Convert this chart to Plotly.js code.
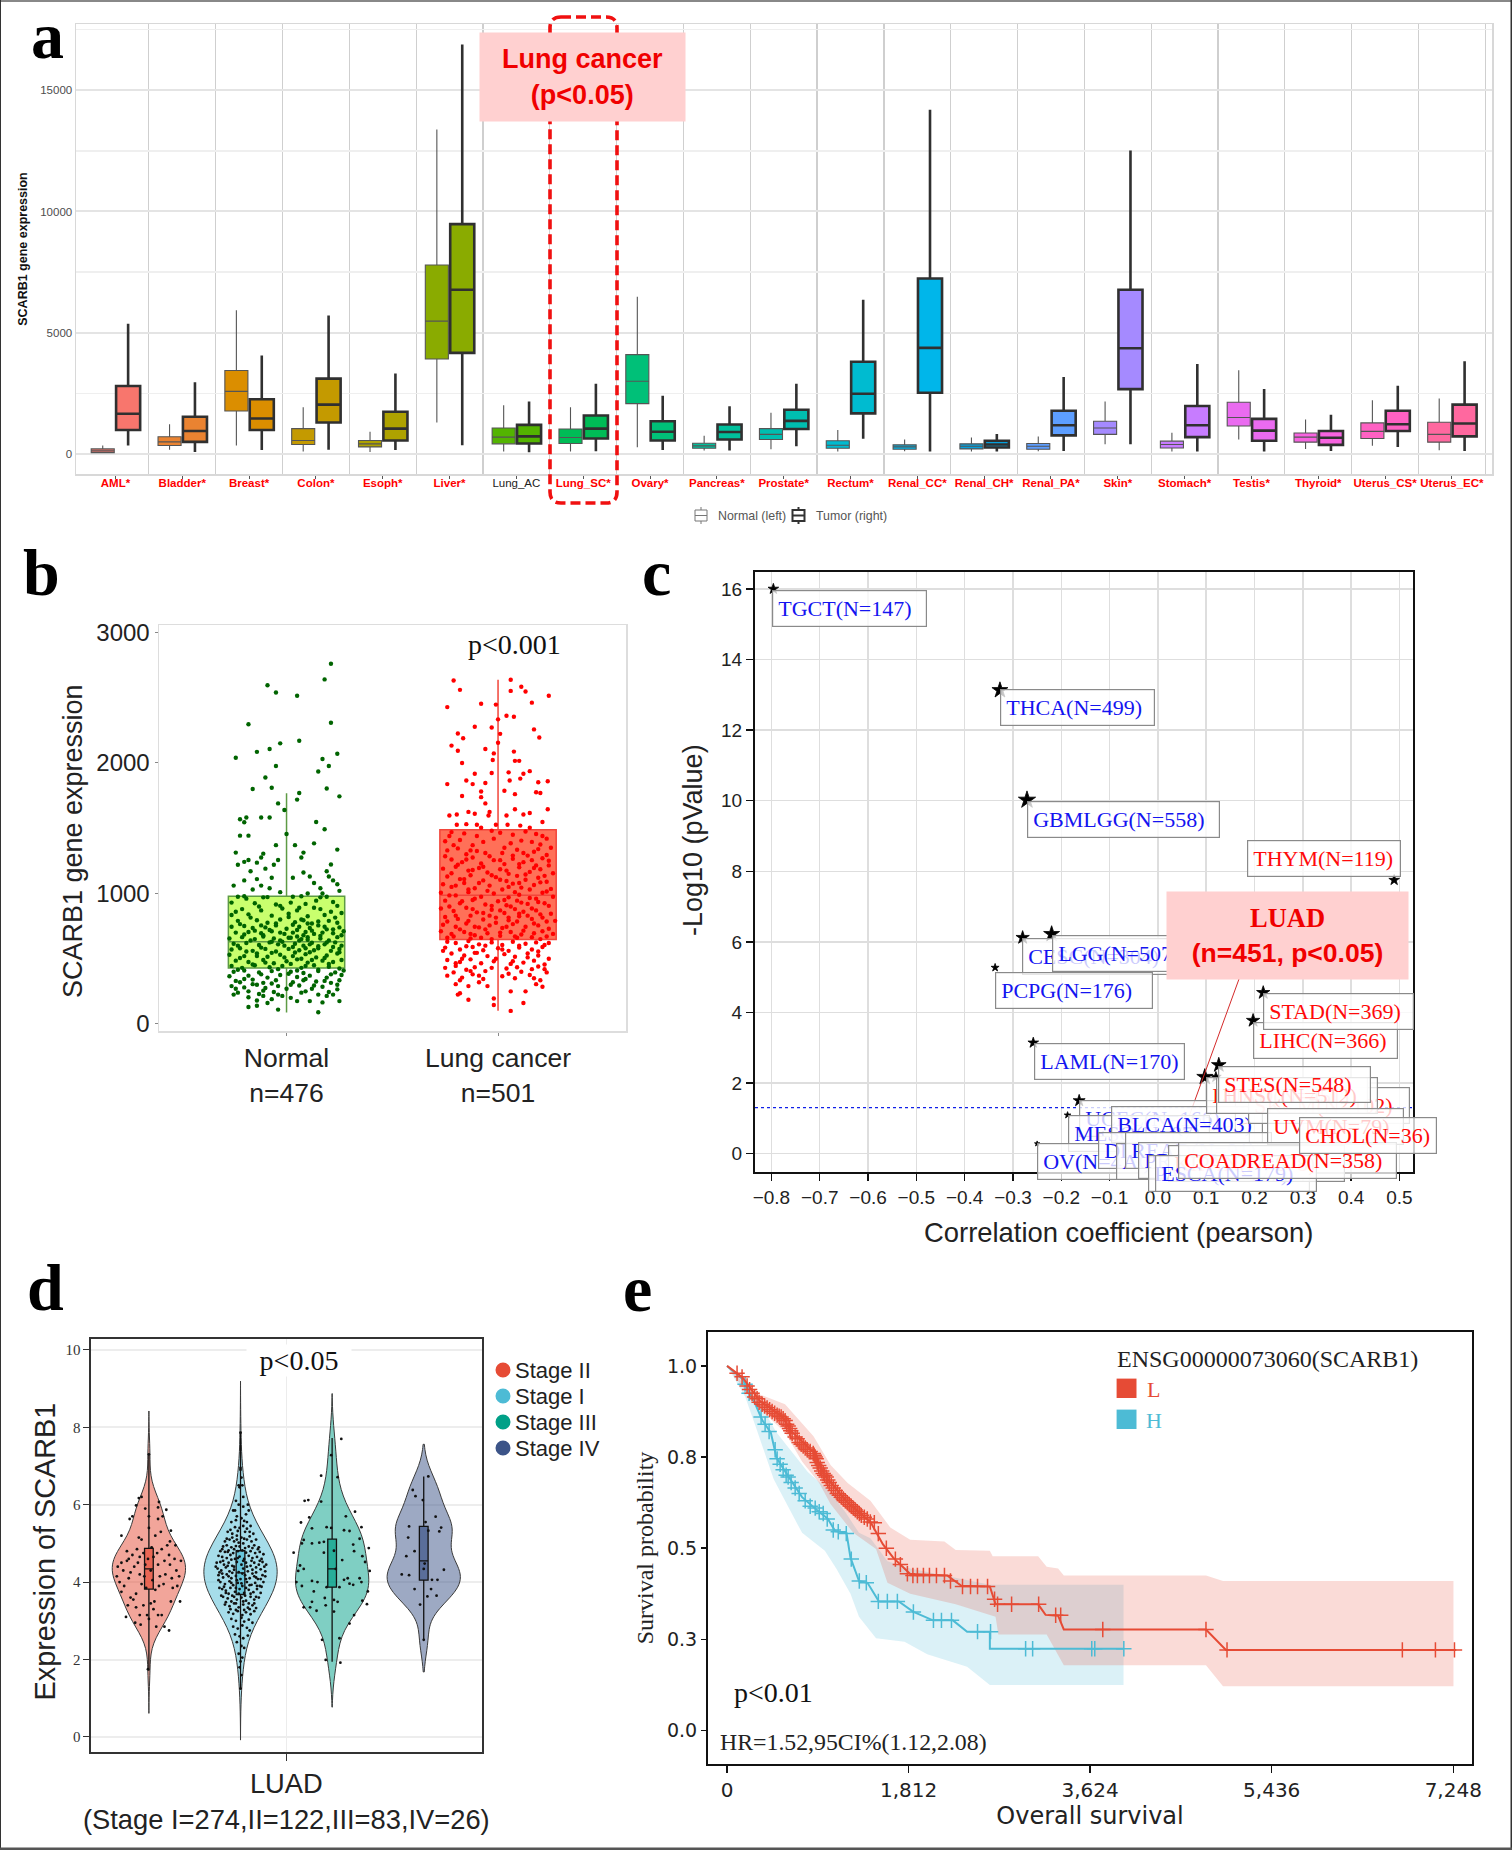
<!DOCTYPE html>
<html><head><meta charset="utf-8">
<script src="https://cdn.plot.ly/plotly-3.0.1.min.js"></script>
<style>html,body{margin:0;padding:0;background:#fff}#fig{width:1512px;height:1850px}</style>
</head><body><div id="fig"></div>
<script>
// ---------- panel a ----------
const tissues=["AML*","Bladder*","Breast*","Colon*","Esoph*","Liver*","Lung_AC","Lung_SC*","Ovary*","Pancreas*","Prostate*","Rectum*","Renal_CC*","Renal_CH*","Renal_PA*","Skin*","Stomach*","Testis*","Thyroid*","Uterus_CS*","Uterus_EC*"];
const tissueColors=["#F8766D","#EA8331","#DB8E00","#C49A00","#AEA200","#8AAB00","#53B400","#00BC56","#00C078","#00C09C","#00BEB0","#00BBD0","#00B6EA","#06A0DC","#5D9EFF","#A58AFF","#C77CFF","#EA6BF0","#F763E0","#FF61C3","#FF689F"];
const normalLow=[30,180,350,100,84,1296,98,98,279,140,195,98,110,98,110,404,98,600,209,335,153];
const normalQ1=[55,350,1770,390,293,3917,418,432,2077,237,600,237,195,209,195,808,250,1157,488,641,488];
const normalMed=[130,500,2580,558,418,5478,697,683,2997,335,808,362,293,320,320,1073,390,1505,697,934,808];
const normalQ3=[210,710,3443,1045,558,7792,1073,1031,4098,446,1045,543,376,418,432,1352,530,2133,864,1282,1310];
const normalHigh=[350,1227,5925,1924,920,13382,2007,1924,6482,753,1700,990,600,683,725,2160,878,3457,1422,2216,2286];
const tumorLow=[350,85,167,180,167,362,70,110,167,140,320,627,98,98,125,404,98,98,125,293,125];
const tumorQ1=[990,500,990,1296,558,4168,432,641,558,600,1031,1673,2523,265,767,2676,697,543,376,948,725];
const tumorMed=[1660,950,1464,2035,1045,6775,725,1045,920,906,1366,2481,4377,390,1185,4363,1185,962,669,1227,1255];
const tumorQ3=[2802,1533,2258,3109,1742,9480,1199,1589,1352,1213,1826,3805,7235,543,1784,6775,1980,1450,948,1784,2035];
const tumorHigh=[5367,2955,4056,5715,3318,16880,2160,2900,2398,1966,2900,6357,14190,822,3178,12518,3708,2676,1617,2816,3820];

// ---------- panel b ----------
const normalPts=[[.21,2760],[.18,2640],[-.09,2595],[-.05,2540],[.05,2515],[-.18,2297],[.21,2308],[.06,2170],[-.03,2150],[-.08,2107],[-.14,2085],[.24,2070],[-.24,2040],[.17,2030],[-.05,1977],[.2,1977],[.15,1934],[-.1,1889],[-.16,1800],[-.07,1810],[.19,1804],[.25,1744],[.06,1770],[.05,1719],[-.04,1690],[-.01,1640],[-.22,1568],[-.19,1582],[-.12,1582],[-.08,1582],[-.2,1545],[.14,1548],[.18,1492],[0,1455],[-.22,1443],[-.18,1443],[-.05,1370],[.04,1370],[.13,1384],[-.24,1313],[-.11,1305],[.24,1336],[.08,1313],[-.18,1256],[-.12,1276],[.07,1276],[-.04,1256],[-.23,1220],[-.14,1236],[-.06,1220],[.21,1222],[-.2,1242],
[-.2,1100],[-.17,1170],[-.14,1110],[-.12,1060],[-.1,1190],[-.08,1040],[-.03,1010],[.08,1160],[.11,1130],[.13,1080],[.16,1040],[.19,1170],[.22,1100],[.24,1070],[.25,1020],[.03,1120],[.1,1000],[-.25,1060],[-.07,1120],[.2,1130],[.17,1000],[-.16,1030],
[-.23,975],[-.2,978],[-.11,970],[-.09,972],[.03,975],[.07,978],[.16,970],[.19,975],[-.26,930],[-.15,925],[-.05,915],[.02,930],[.09,920],[.24,905],[-.21,880],[-.12,870],[-.02,885],[.05,870],[.13,890],[.21,860],[-.26,835],[-.18,840],[-.07,830],[.01,845],[.1,825],[.18,835],[.26,850],[-.23,790],[-.14,795],[-.09,775],[-.03,800],[.04,780],[.08,795],[.12,770],[.2,790],[.24,775],[-.26,745],[-.2,750],[-.16,735],[-.1,740],[-.05,755],[0,730],[.06,745],[.11,735],[.15,755],[.19,725],[.25,740],[-.24,700],[-.18,705],[-.12,695],[-.07,710],[-.01,690],[.03,700],[.09,705],[.13,690],[.17,700],[.22,695],[.27,710],[-.27,655],[-.21,665],[-.15,650],[-.11,670],[-.06,655],[-.03,640],[.02,660],[.07,650],[.1,665],[.1,645],[.16,655],[.2,640],[.24,665],[-.25,615],[-.19,620],[-.13,605],[-.08,625],[-.04,610],[-.02,630],[.04,615],[.08,600],[.12,622],[.18,610],[.23,625],[.26,600],[-.26,570],[-.22,580],[-.16,560],[-.1,575],[-.05,555],[.01,575],[.06,565],[.11,550],[.15,580],[.21,560],[.25,575],[-.27,530],[-.2,520],[-.14,540],[-.09,515],[-.03,530],[.03,520],[.09,535],[.14,510],[.19,525],[.24,540],[-.24,485],[-.18,475],[-.11,490],[-.06,465],[0,480],[.05,495],[.1,470],[.17,485],[.22,475],[.26,490],[-.26,445],[-.21,430],[-.15,450],[-.08,435],[-.02,445],[.07,430],[.13,450],[.2,438],[.25,425],
[-.25,400],[-.2,410],[-.13,395],[-.07,405],[.02,400],[.08,390],[.15,405],[.23,395],[-.27,365],[-.18,370],[-.09,355],[-.03,375],[.05,360],[.11,370],[.19,355],[.26,375],[-.24,330],[-.22,320],[-.16,340],[-.11,315],[-.05,335],[.03,320],[.09,345],[.14,325],[.21,315],[.25,335],[-.26,290],[-.2,280],[-.14,300],[-.1,275],[-.04,290],[0,270],[.06,295],[.12,270],[.17,285],[.24,300],[-.23,240],[-.18,250],[-.13,230],[-.06,245],[-.04,225],[.07,240],[.15,225],[.2,245],[.22,225],[-.25,225],[-.18,205],[-.14,180],[-.07,190],[.11,175],[.17,165],[.25,175],[-.18,130],[-.14,140],[-.04,110],[.15,90],[.02,200],[-.11,215],
[-.19,960],[.14,945],[-.03,905],[.22,935],[-.13,900],[.06,890],[-.24,860],[.16,880],[.01,820],[-.17,815],[.23,815],[.07,800],[-.05,770],[.15,785],[-.22,765],[.03,760],[.1,770],[-.12,755],[.18,745],[-.08,720],[.05,720],[-.15,715],[.22,725],[-.03,700],[.12,715],[-.2,685],[.08,680],[.26,680],[-.11,680],[.16,675],[.01,660],[.05,670],[.06,640],[-.17,640],[.19,625],[-.07,630],[.11,610],[-.23,600],[.15,595],[-.01,600],[.03,590],[-.12,585],[.22,590],[.09,580],[-.19,555],[.13,565],[-.07,545],[.04,548],[.25,550],[-.14,520],[.18,505],[-.01,510],[.07,500],[-.22,505],[.12,490],[-.1,470],[.02,460],[.2,460],[-.16,455],[.09,445],[-.04,420],[.15,415],[-.23,415],[.05,410],[.27,410],[-.12,380],[.01,385],[.21,380],[-.2,345],[.08,335],[.18,330],[-.07,310],[.02,300],[-.16,305],[.13,295],[-.24,270],[.24,265],[-.11,255],[.09,250],[-.02,215],[.19,215],[-.09,160],[.05,175]];
const lungPts=[[-.21,2632],[.06,2637],[-.18,2560],[.06,2552],[.11,2584],[.13,2547],[.24,2515],[.16,2462],[-.08,2453],[-.01,2447],[-.24,2428],[.04,2362],[.075,2354],[0,2334],[-.11,2277],[-.03,2272],[.17,2257],[-.19,2226],[.01,2223],[-.165,2189],[.195,2195],[0,2155],[-.22,2133],[-.06,2107],[-.19,2093],[.075,2087],[-.02,2073],[-.17,1999],[.08,2016],[.1,2016],[-.025,2022],[.15,1937],[-.11,1917],[-.03,1923],[.05,1928],[.12,1917],[-.15,1866],[-.24,1838],[-.12,1838],[-.06,1846],[.055,1866],[.105,1880],[.19,1852],[.235,1860],[-.08,1781],[.03,1787],[.08,1761],[.18,1775],[.2,1770],[-.17,1747],[-.08,1738],[-.06,1690],[-.04,1625],[.235,1645],[.08,1645],[-.14,1625],[-.23,1597],[-.195,1605],[-.11,1611],[-.045,1597],[.04,1597],[.12,1605],[.15,1616],[.21,1548],[-.195,1526],[-.15,1531],[-.1,1526],[-.01,1526],[.045,1526],[.105,1520],[-.08,1503],[.15,1503],
[-.22,1470],[-.16,1460],[-.03,1480],[.01,1465],[.13,1475],[.18,1455],[.21,1440],[-.25,1400],[-.18,1410],[-.12,1370],[-.07,1395],[.06,1385],[.11,1405],[.2,1375],[.25,1350],[-.24,1330],[-.19,1345],[-.15,1300],[-.1,1325],[-.04,1285],[.02,1310],[.09,1335],[.14,1290],[.17,1320],[.23,1295],[-.22,1260],[-.17,1240],[-.12,1275],[-.08,1230],[-.02,1255],[.03,1225],[.07,1265],[.12,1240],[.18,1215],[.24,1250],[-.26,1190],[-.2,1205],[-.14,1175],[-.09,1195],[-.05,1160],[.01,1185],[.05,1150],[.1,1200],[.15,1165],[.2,1185],[.26,1155],[-.24,1130],[-.18,1110],[-.13,1140],[-.07,1100],[-.01,1125],[.04,1095],[.09,1135],[.13,1105],[.19,1120],[.23,1090],[-.26,1070],[-.22,1050],[-.16,1080],[-.11,1040],[-.04,1060],[.02,1030],[.07,1075],[.11,1045],[.17,1065],[.25,1035],[-.27,1005],[-.2,985],[-.14,1010],[-.08,975],[-.02,1000],[.05,970],[.1,990],[.15,965],[.21,1005],[.26,975],[-.25,945],[-.18,925],[-.12,950],[-.06,915],[0,940],[.04,910],[.09,945],[.14,920],[.19,935],[.24,905],[-.27,885],[-.21,865],[-.15,890],[-.1,855],[-.03,875],[.03,850],[.08,880],[.12,860],[.18,870],[.25,845],[-.25,820],[-.19,805],[-.13,830],[-.07,800],[-.01,815],[.05,795],[.1,825],[.16,805],[.21,815],[.27,790],[-.26,760],[-.2,745],[-.15,770],[-.09,740],[-.04,755],[.02,735],[.07,765],[.13,745],[.19,755],[.24,730],[-.27,710],[-.22,690],[-.16,705],[-.11,680],[-.05,695],[.01,675],[.06,705],[.11,685],[.17,695],[.23,670],[.26,690],[-.24,660],[-.13,655],[-.03,650],[.09,660],[.2,650],
[-.24,630],[-.2,620],[-.14,635],[-.09,610],[-.03,625],[.02,605],[.07,630],[.13,615],[.18,625],[.22,605],[-.25,585],[-.18,570],[-.12,590],[-.07,565],[0,580],[.05,560],[.1,585],[.16,570],[.21,590],[-.22,540],[-.16,525],[-.11,545],[-.05,520],[.03,535],[.08,515],[.14,540],[.19,525],[.24,500],[-.24,490],[-.18,475],[-.13,495],[-.08,465],[-.02,480],[.06,460],[.12,470],[.17,485],[.22,455],[-.25,430],[-.2,445],[-.15,415],[-.11,435],[-.06,405],[.04,425],[.11,400],[.16,420],[.23,395],[-.24,370],[-.17,355],[-.12,380],[-.07,345],[.02,365],[.08,350],[.15,375],[.2,335],[-.2,305],[-.14,290],[-.09,320],[.18,305],[.21,285],[-.18,235],[-.19,225],[-.14,185],[-.02,195],[.13,250],[.12,160],[-.02,145],[.06,100],[-.05,290],[.06,250],
[-.23,1440],[.07,1450],[-.1,1440],[.23,1420],[-.02,1420],[.16,1395],[-.21,1370],[.03,1350],[-.13,1330],[.19,1340],[-.06,1310],[.12,1310],[-.25,1285],[.07,1290],[.21,1270],[-.15,1260],[.01,1255],[.16,1255],[-.19,1220],[.1,1225],[-.07,1205],[.24,1215],[-.12,1180],[.04,1175],[.17,1195],[-.22,1155],[-.03,1140],[.13,1145],[.22,1135],[-.16,1110],[.01,1105],[.1,1080],[-.09,1080],[.2,1085],[-.2,1060],[.05,1050],[-.14,1030],[.15,1030],[-.05,1020],[.23,1015],[-.23,985],[.08,1010],[-.11,960],[.03,950],[.18,960],[-.17,940],[.11,930],[-.03,905],[.22,925],[-.23,900],[.06,900],[-.12,880],[.16,885],[-.07,850],[.01,870],[.2,840],[-.2,830],[.1,845],[-.04,830],[.14,830],[-.14,790],[.05,815],[.23,785],[-.24,785],[.09,785],[-.01,775],[.17,770],[-.11,745],[.04,745],[-.18,725],[.12,715],[-.06,725],[.21,710],[.01,700],[-.13,690],[.08,670],[-.21,670],[.16,665],[-.08,660],
[.24,620],[-.06,600],[.1,600],[-.15,595],[.02,570],[.19,555],[-.1,545],[-.26,560],[.14,510],[-.01,500],[-.17,500],[.07,480],[-.2,465],[.19,440],[-.03,430],[.09,435],[-.13,405],[.22,420],[-.21,395],[.05,385],[-.09,370],[.17,350],[-.18,335]];

// ---------- panel c ----------
const cancers=["TGCT","THCA","GBMLGG","THYM","CESC","LGG","PCPG","LAML","STAD","LIHC","STES","LUAD","HNSC","UCEC","MESO","OV"];
const pearson=[-.796,-.327,-.271,.489,-.28,-.22,-.337,-.258,.218,.197,.126,.097,.12,-.163,-.187,-.25];
const logP=[16,13.13,10.02,7.75,6.12,6.22,5.27,3.14,4.56,3.77,2.51,2.17,2.17,1.5,1.09,.28];
const starSize=[8,12,13,8,10,12,6,8,10,10,11,12,8,9,5,4];
const labelText=["TGCT(N=147)","THCA(N=499)","GBMLGG(N=558)","THYM(N=119)","CESC(N=304)","LGG(N=507)","PCPG(N=176)","LAML(N=170)","LIHC(N=366)","STAD(N=369)","UCEC(N=166)","MESO(N=87)","OV(N=419)","BLCA(N=403)","DLBC(N=47)","ACC(N=77)","READ(N=91)","PRAD(N=492)","PAAD(N=177)","KIPAN(N=878)","ESCA(N=179)","SKCM(N=102)","LUAD(N=451)","HNSC(N=512)","STES(N=548)","UVM(N=79)","COADREAD(N=358)","CHOL(N=36)"];
const labelColor=["b","b","b","r","b","b","b","b","r","r","b","b","b","b","b","b","b","b","b","r","b","r","r","r","r","r","r","r"];
const labelLeft=[772,1000,1027,1247,1022,1052,995,1034,1253,1263,1079,1068,1037,1111,1098,1116,1125,1138,1148,1168,1155,1248,1206,1216,1218,1267,1178,1299];
const labelTop=[590,689,801,840,938,935,972,1043,1022,993,1100,1115,1143,1106,1132,1143,1132,1142,1155,1145,1155,1087,1077,1077,1066,1108,1142,1117];
const labelBoxWidth=[143,143,181,142,140,141,146,139,133,139,145,130,130,140,140,130,135,150,150,165,150,150,150,150,141,125,207,126];

// ---------- panel d ----------
const stageNames=["Stage II","Stage I","Stage III","Stage IV"];
const stageColors=["#E64B35","#4DBBD5","#00A087","#3C5488"];
const stageSpanLow=[.61,-.08,.77,1.68];
const stageSpanHigh=[8.42,9.19,8.87,7.56];
const stageBandwidth=[.42,.55,.5,.42];
const stageLow=[1.71,1.24,1.94,2.51];
const stageQ1=[3.82,3.68,3.87,4.05];
const stageMed=[4.34,4.24,4.34,4.55];
const stageQ3=[4.87,4.81,5.11,5.44];
const stageHigh=[7.3,7.86,7.72,6.73];
const stageIIPts=[[0,7.3],[-.08,6.2],[-.11,6.17],[-.14,5.98],[.11,6.07],[-.04,5.9],[.19,5.87],[.1,5.93],[-.18,5.7],[-.21,5.63],[0,5.7],[.1,5.63],[.15,5.7],[-.3,5.2],[-.11,5.15],[-.08,5.1],[.24,5.33],[.23,5.05],[.29,4.95],[0,5.4],[.07,5.2],[.13,5.3],[-.24,4.8],[-.24,4.55],[-.3,4.5],[-.34,4.4],[-.35,4.15],[-.32,4],[-.28,4.3],[-.22,4.6],[-.2,4.25],[-.22,4.1],[-.27,3.9],[-.3,3.75],[-.18,4.7],[-.16,4.4],[-.13,4.85],[-.12,4.5],[-.1,4.2],[-.08,3.95],[-.14,3.7],[-.17,3.55],[-.1,4.65],[-.06,4.75],[-.04,4.45],[-.05,4.15],[-.03,3.85],[-.01,4.6],[.02,4.3],[.03,4.9],[.05,4.65],[.04,4.05],[.07,3.8],[.09,4.75],[.1,4.45],[.12,4.15],[.11,3.9],[.14,4.85],[.17,4.55],[.18,4.2],[.16,3.95],[.2,4.95],[.22,4.7],[.23,4.45],[.25,4.1],[.26,3.85],[.28,4.6],[.3,4.3],[.33,4.15],[.31,3.9],[.35,4.55],[.34,3.5],[.24,3.5],[-.23,3.4],[-.2,3.6],[-.14,3.35],[-.1,3.15],[-.15,2.95],[-.09,2.9],[-.02,3.15],[0,3.05],[.05,3.3],[.06,3.5],[.1,3.15],[.14,3.15],[.17,2.85],[.08,2.85],[.22,2.75],[-.06,3.4],[.02,3.45],[-.01,1.75],[-.25,3.1]];
const stageIPts=[[0,7.86],[0,6.95],[0,6.9],[.01,6.7],[-.02,6.5],[.02,6.5],[-.01,6.45],[.03,6.2],[-.05,6.1],[-.02,6],[.08,6],[.09,5.85],[-.08,5.85],[.06,5.75],[-.04,5.7],[.01,5.65],[-.1,5.55],[.07,5.55],[.11,5.45],[-.06,5.42],[-.01,5.4],[.03,5.45],[-.14,5.3],[-.09,5.25],[.05,5.3],[.1,5.3],[.14,5.25],[-.04,5.2],[.01,5.15],[-.17,5.05],[-.12,5.1],[-.07,5.05],[.07,5.1],[.12,5.05],[.17,5.1],[-.02,5.02],[.03,5],[-.19,4.92],[-.15,4.95],[-.1,4.9],[-.05,4.93],[.09,4.92],[.15,4.95],[.2,4.9],[-.22,4.8],[-.17,4.78],[-.13,4.82],[-.08,4.75],[-.03,4.8],[.02,4.82],[.06,4.76],[.11,4.8],[.16,4.75],[.21,4.78],[.25,4.72],[-.24,4.68],[-.2,4.65],[-.15,4.62],[-.11,4.7],[-.06,4.6],[-.01,4.66],[.04,4.6],[.09,4.68],[.13,4.62],[.18,4.65],[.23,4.6],[-.26,4.5],[-.22,4.52],[-.18,4.45],[-.13,4.5],[-.09,4.42],[-.04,4.52],[.01,4.45],[.06,4.5],[.11,4.42],[.15,4.5],[.2,4.45],[.24,4.52],[.28,4.45],[-.25,4.35],[-.21,4.3],[-.16,4.38],[-.12,4.28],[-.07,4.32],[-.02,4.26],[.03,4.35],[.08,4.28],[.13,4.32],[.17,4.25],[.22,4.33],[.27,4.28],[-.24,4.18],[-.19,4.12],[-.15,4.2],[-.1,4.1],[-.05,4.16],[0,4.08],[.05,4.18],[.1,4.1],[.15,4.15],[.19,4.08],[.24,4.18],[-.22,4],[-.17,3.95],[-.12,4.02],[-.08,3.92],[-.03,3.98],[.02,3.9],[.07,4],[.12,3.93],[.16,3.98],[.21,3.9],[.25,4],[-.2,3.82],[-.16,3.78],[-.16,3.72],[-.11,3.85],[-.06,3.75],[-.01,3.82],[.04,3.72],[.09,3.8],[.14,3.74],[.18,3.82],[.22,3.72],[-.19,3.62],[-.14,3.58],[-.09,3.65],[-.04,3.55],[.01,3.6],[.06,3.52],[.11,3.62],[.15,3.55],[.2,3.6],[-.17,3.42],[-.12,3.38],[-.07,3.45],[-.02,3.35],[.03,3.42],[.08,3.34],[.13,3.4],[.17,3.33],[-.13,3.22],[-.08,3.18],[-.03,3.25],[.02,3.15],[.06,3.22],[.11,3.17],[.15,3.25],[-.1,3.05],[-.05,3],[.01,3.08],[.04,2.98],[.09,3.03],[.13,2.95],[-.08,2.85],[-.03,2.8],[.02,2.88],[.07,2.82],[.1,2.75],[-.06,2.65],[-.01,2.6],[.03,2.55],[.08,2.62],[-.04,2.45],[.01,2.35],[.04,2.3],[-.02,2.15],[.02,2.05],[0,1.95],[-.01,1.8],[.01,1.6],[0,1.25],
[-.27,4.4],[-.23,4.25],[-.19,4.55],[-.14,4.42],[-.1,4.58],[-.07,4.4],[-.03,4.62],[.03,4.55],[.07,4.4],[.12,4.55],[.17,4.38],[.21,4.55],[.26,4.4],[-.24,4.05],[-.2,4.22],[-.13,4.15],[-.09,4.24],[-.04,4.05],[.02,4.22],[.06,4.08],[.13,4.22],[.17,4.12],[.22,4.08],[.27,4.15],[-.23,3.85],[-.18,3.88],[-.1,3.98],[-.05,3.85],[.01,3.97],[.06,3.85],[.1,3.92],[.18,3.9],[.23,3.88],[-.21,3.65],[-.13,3.7],[-.07,3.62],[-.02,3.7],[.05,3.65],[.11,3.7],[.17,3.62],[-.16,3.48],[-.1,3.5],[-.05,3.45],[.03,3.5],[.09,3.45],[.15,3.45],[-.11,3.3],[-.05,3.28],[.04,3.28],[.1,3.3],[-.2,4.85],[-.14,4.78],[-.07,4.85],[-.01,4.92],[.05,4.88],[.13,4.88],[.19,4.85],[-.15,5.12],[-.09,5.15],[-.04,5.1],[.04,5.12],[.1,5.18],[-.11,5.35],[-.03,5.32],[.07,5.38],[-.05,5.6],[.04,5.58],[-.06,5.85],[.03,5.95]];
const stageIIIPts=[[.1,7.7],[-.01,7.28],[-.12,6.75],[.06,6.71],[-.3,6.1],[-.26,6.12],[-.12,6.08],[.25,5.82],[-.25,5.67],[-.34,5.54],[.15,5.7],[.32,5.42],[-.22,5.39],[-.06,5.42],[-.01,5.4],[.13,5.34],[.19,5.32],[-.31,5.09],[-.22,5],[-.14,5.02],[-.09,5.04],[.3,5.12],[.4,4.88],[-.42,4.76],[-.33,5],[.23,4.97],[.24,4.8],[-.09,4.76],[.11,4.57],[.02,4.81],[.33,4.67],[-.35,4.43],[-.31,4.34],[-.37,4.29],[.04,4.34],[.41,4.29],[.36,4.52],[.3,4.1],[-.39,4],[-.22,4.03],[-.16,4],[.17,4.1],[.19,3.96],[.23,3.93],[.32,4],[-.33,3.9],[-.06,3.87],[.08,3.87],[.13,4.06],[.39,3.76],[-.2,3.76],[-.08,3.59],[.02,3.54],[.06,3.49],[-.22,3.49],[-.31,3.35],[-.24,3.35],[-.17,3.26],[-.07,3.4],[.02,3.24],[.33,3.52],[.38,3.43],[.24,3.15],[.19,2.93],[.08,2.55],[-.11,2.51],[-.07,1.99],[.09,1.92]];
const stageIVPts=[[.05,6.73],[-.12,6.38],[-.09,6.22],[-.01,6.12],[.13,5.69],[-.16,5.44],[.19,5.41],[.02,5.55],[-.17,5.15],[.05,5.33],[.17,5.31],[-.1,4.8],[-.19,4.67],[.01,4.48],[-.24,4.2],[-.16,4.18],[.22,4.32],[0,4.34],[.09,4.06],[.15,4.06],[-.1,3.82],[.08,3.82],[.04,3.63],[.14,3.65],[-.04,3.42],[0,2.51]];

// ---------- panel e ----------
const lowTime=[0,153,324,551,636,863,976,1204,1431,1555,1658,1828,2197,2339,2623,2680,3105,3179,3304,3361,4780,4979,7278];
const lowSurv=[1,.969,.905,.861,.822,.763,.699,.625,.572,.511,.474,.429,.425,.397,.395,.346,.346,.317,.315,.277,.277,.221,.221];
const lowUpT=[0,295,579,863,1033,1204,1431,1629,1828,2169,2282,2623,2651,3105,3190,3304,3361,4780,4950,7250];
const lowUpS=[1,.925,.895,.807,.728,.679,.63,.557,.523,.518,.495,.493,.478,.478,.449,.444,.425,.425,.41,.41];
const lowLoT=[0,295,579,749,920,1033,1260,1487,1601,1828,2282,2680,2708,3190,3361,4780,4950,7250];
const lowLoS=[1,.89,.817,.738,.679,.621,.542,.498,.405,.375,.346,.312,.263,.263,.179,.179,.121,.121];
const lowCensT=[200,300,350,400,450,500,540,580,610,636,680,720,760,800,860,880,900,930,960,990,1020,1060,1100,1140,1180,1220,1260,1300,1340,1400,1470,1590,1680,1730,1800,1855,1900,1960,2020,2090,2170,2230,2350,2430,2500,2600,2670,2700,2840,3110,3280,3330,3750,4780,4990,6740,7070,7260,100,150,225,250,275,320,375,425,475,520,560,595,625,650,700,740,780,830,870,890,915,945,975,1005,1040,1080,1120,1160,1200,1240,1280,1320,1370,1430,1510];
const lowCensS=[.945,.91,.895,.885,.875,.865,.86,.85,.835,.822,.805,.79,.78,.77,.76,.75,.735,.72,.705,.695,.68,.665,.65,.64,.63,.62,.61,.6,.59,.58,.57,.5,.47,.455,.43,.425,.425,.425,.425,.425,.425,.41,.395,.395,.395,.395,.36,.346,.346,.346,.316,.316,.277,.277,.221,.221,.221,.221,.98,.97,.935,.925,.915,.9,.89,.88,.87,.862,.855,.84,.828,.815,.8,.785,.775,.765,.755,.745,.727,.712,.7,.687,.672,.658,.645,.635,.625,.615,.605,.595,.585,.572,.54];
const highTime=[0,153,267,352,437,494,607,749,891,1005,1079,1192,1232,1317,1402,1516,1714,1856,2055,2254,2396,2623,2623,3957];
const highSurv=[1,.964,.905,.851,.817,.748,.699,.64,.606,.581,.547,.542,.474,.41,.405,.354,.354,.326,.302,.302,.271,.271,.224,.224];
const highUpT=[0,210,352,494,636,806,1005,1175,1317,1431,1601,1828,2169,2623,3957];
const highUpS=[1,.939,.885,.817,.768,.709,.66,.601,.542,.527,.464,.444,.425,.4,.4];
const highLoT=[0,182,295,466,579,749,976,1090,1232,1317,1487,1771,1998,2396,2623,3957];
const highLoS=[1,.915,.826,.689,.63,.542,.493,.444,.375,.312,.253,.243,.209,.175,.125,.125];
const highCensT=[180,220,340,380,420,480,500,530,560,590,610,640,680,720,780,830,880,920,960,1000,1060,1110,1190,1240,1320,1390,1510,1600,1700,1860,2060,2140,2240,2500,2630,2980,3050,3640,3670,3960];
const highCensS=[.95,.925,.86,.84,.82,.77,.745,.73,.715,.7,.695,.68,.665,.65,.63,.615,.61,.6,.595,.58,.55,.545,.54,.47,.41,.405,.354,.354,.354,.325,.302,.302,.302,.271,.271,.224,.224,.224,.224,.224];
const survTicks=[0,1812,3624,5436,7248];
const survYTicks=[0,.25,.5,.75,1];
const survYText=["0.0","0.3","0.5","0.8","1.0"];

// ---------- layout helpers ----------
const W=1512,H=1850;
const X=p=>p/W, Y=p=>1-p/H;
const SANS="Liberation Sans, Arial, sans-serif", SERIF="Liberation Serif, Times New Roman, serif", DJ="DejaVu Sans, sans-serif";
const traces=[], shapes=[], annotations=[];
function txt(x,y,text,o={}){annotations.push(Object.assign({xref:'paper',yref:'paper',x:X(x),y:Y(y),text,showarrow:false,xanchor:'center',yanchor:'middle',font:{family:SANS,size:14,color:'#000'}},o));}
function paperRect(x0,y0,x1,y1,o={}){shapes.push(Object.assign({type:'rect',xref:'paper',yref:'paper',x0:X(x0),x1:X(x1),y0:Y(y0),y1:Y(y1),line:{width:0}},o));}
function paperLine(x0,y0,x1,y1,o={}){shapes.push(Object.assign({type:'line',xref:'paper',yref:'paper',x0:X(x0),x1:X(x1),y0:Y(y0),y1:Y(y1)},o));}

// panel a traces
const offs=.19;
tissues.forEach((t,i)=>{
  traces.push({type:'box',xaxis:'x',yaxis:'y',x:[i-offs],q1:[normalQ1[i]],median:[normalMed[i]],q3:[normalQ3[i]],lowerfence:[normalLow[i]],upperfence:[normalHigh[i]],width:.345,whiskerwidth:0,boxpoints:false,fillcolor:tissueColors[i],line:{color:'#555',width:1.1},showlegend:false,name:t+' normal'});
  traces.push({type:'box',xaxis:'x',yaxis:'y',x:[i+offs],q1:[tumorQ1[i]],median:[tumorMed[i]],q3:[tumorQ3[i]],lowerfence:[tumorLow[i]],upperfence:[tumorHigh[i]],width:.36,whiskerwidth:0,boxpoints:false,fillcolor:tissueColors[i],line:{color:'#303030',width:2.6},showlegend:false,name:t+' tumor'});
});
const tissueTicks=tissues.map(t=>t.endsWith('*')?`<b><span style="color:#ff0000">${t}</span></b>`:`<span style="color:#222">${t}</span>`);

// panel b traces
traces.push({type:'box',xaxis:'x2',yaxis:'y2',x:[0],q1:[428],median:[630],q3:[978],lowerfence:[88],upperfence:[1767],width:.55,whiskerwidth:0,boxpoints:false,fillcolor:'#C9FF6E',line:{color:'#5E9B45',width:1.5},showlegend:false,name:'Normal'});
traces.push({type:'box',xaxis:'x2',yaxis:'y2',x:[1],q1:[647],median:[987],q3:[1489],lowerfence:[102],upperfence:[2637],width:.55,whiskerwidth:0,boxpoints:false,fillcolor:'#FF7058',line:{color:'#F2453A',width:1.5},showlegend:false,name:'Lung cancer'});
traces.push({type:'scatter',mode:'markers',xaxis:'x2',yaxis:'y2',x:normalPts.map(p=>p[0]),y:normalPts.map(p=>p[1]),marker:{color:'#006400',size:4.4},showlegend:false,name:'Normal samples'});
traces.push({type:'scatter',mode:'markers',xaxis:'x2',yaxis:'y2',x:lungPts.map(p=>1+p[0]),y:lungPts.map(p=>p[1]),marker:{color:'#FF0000',size:4.4},showlegend:false,name:'Lung cancer samples'});

// panel c traces
traces.push({type:'scatter',mode:'lines',xaxis:'x3',yaxis:'y3',x:[-.834,.528],y:[1.3,1.3],line:{color:'#1020E8',width:1.3,dash:'3px,3px'},showlegend:false,name:'p=0.05'});
traces.push({type:'scatter',mode:'markers',xaxis:'x3',yaxis:'y3',x:pearson,y:logP,text:cancers,marker:{symbol:'star',color:'#000',size:starSize,opacity:1,line:{color:'#000',width:.8}},showlegend:false,name:'cancers',cliponaxis:false});

// panel d traces
const stagePts=[stageIIPts,stageIPts,stageIIIPts,stageIVPts];
stagePts.forEach((pts,i)=>{
  traces.push({type:'violin',xaxis:'x4',yaxis:'y4',x0:i,y:pts.map(p=>p[1]),width:.8,scalemode:'width',spanmode:'manual',span:[stageSpanLow[i],stageSpanHigh[i]],bandwidth:stageBandwidth[i],points:false,box:{visible:false},meanline:{visible:false},fillcolor:stageColors[i]+'80',line:{color:'#3a3a3a',width:1},showlegend:false,name:stageNames[i]});
});
stagePts.forEach((pts,i)=>{
  traces.push({type:'box',xaxis:'x4',yaxis:'y4',x:[i],q1:[stageQ1[i]],median:[stageMed[i]],q3:[stageQ3[i]],lowerfence:[stageLow[i]],upperfence:[stageHigh[i]],width:.095,whiskerwidth:0,boxpoints:false,fillcolor:stageColors[i]+'B0',line:{color:'#111',width:1.3},showlegend:false,name:stageNames[i]+' box'});
  traces.push({type:'scatter',mode:'markers',xaxis:'x4',yaxis:'y4',x:pts.map(p=>i+p[0]),y:pts.map(p=>p[1]),marker:{color:'#111',size:2.8},showlegend:false,name:stageNames[i]+' samples'});
});

// panel e traces
function band(tu,su,tl,sl,col,name){traces.push({type:'scatter',mode:'lines',xaxis:'x5',yaxis:'y5',x:tu.concat(tl.slice().reverse()),y:su.concat(sl.slice().reverse()),fill:'toself',fillcolor:col,line:{width:0},showlegend:false,name});}
band(highUpT,highUpS,highLoT,highLoS,'rgba(77,187,213,.2)','H CI');
band(lowUpT,lowUpS,lowLoT,lowLoS,'rgba(230,75,53,.2)','L CI');
function km(t,s,ct,cs,col,name){
  traces.push({type:'scatter',mode:'lines',xaxis:'x5',yaxis:'y5',x:t,y:s,line:{color:col,width:2},showlegend:false,name});
  traces.push({type:'scatter',mode:'markers',xaxis:'x5',yaxis:'y5',x:ct,y:cs,marker:{symbol:'cross-thin',size:11,line:{color:col,width:1.5}},showlegend:false,name:name+' censored'});
}
km(highTime,highSurv,highCensT,highCensS,'#4DBBD5','H');
km(lowTime,lowSurv,lowCensT,lowCensS,'#E64B35','L');

// page frame
paperRect(0,0,1512,2,{fillcolor:'#888'});
paperRect(0,0,1,1850,{fillcolor:'#333'});
paperRect(1510.5,0,1512,1850,{fillcolor:'#333'});
paperRect(0,1847.5,1512,1850,{fillcolor:'#555'});

// panel letters
[["a",47,35],["b",41,573],["c",656,573],["d",45,1287],["e",637,1288]].forEach(l=>txt(l[1],l[2],`<b>${l[0]}</b>`,{font:{family:SERIF,size:66,color:'#000'}}));

// panel a overlays
{const l=550,r=617,t=17,b=503,c=11;
 const p=`M ${X(l+c)} ${Y(t)} L ${X(r-c)} ${Y(t)} Q ${X(r)} ${Y(t)} ${X(r)} ${Y(t+c)} L ${X(r)} ${Y(b-c)} Q ${X(r)} ${Y(b)} ${X(r-c)} ${Y(b)} L ${X(l+c)} ${Y(b)} Q ${X(l)} ${Y(b)} ${X(l)} ${Y(b-c)} L ${X(l)} ${Y(t+c)} Q ${X(l)} ${Y(t)} ${X(l+c)} ${Y(t)} Z`;
 shapes.push({type:'path',xref:'paper',yref:'paper',path:p,line:{color:'#F01010',width:3.6,dash:'10px,5px'}});}
txt(582.5,77,'<b>Lung cancer<br>(p&lt;0.05)</b>',{width:203,height:86,bgcolor:'#FFD0D0',font:{family:SANS,size:27,color:'#F00000'}});
// panel a legend
function legendIcon(cx,col,lw){paperLine(cx,507,cx,524,{line:{color:col,width:lw}});paperRect(cx-6,510,cx+6,521,{fillcolor:'#fff',line:{color:col,width:lw}});paperLine(cx-6,515.5,cx+6,515.5,{line:{color:col,width:lw}});}
legendIcon(701,'#777',1);legendIcon(798.5,'#333',2);
txt(716,516,'Normal (left)',{xanchor:'left',font:{family:SANS,size:12.4,color:'#555'}});
txt(814,516,'Tumor (right)',{xanchor:'left',font:{family:SANS,size:12.4,color:'#555'}});

// panel b
txt(514,644,'p&lt;0.001',{font:{family:SERIF,size:28,color:'#111'}});
txt(72.6,841.5,'SCARB1 gene expression',{textangle:-90,font:{family:SANS,size:27,color:'#222'}});

// panel c labels
labelText.forEach((t,i)=>{
  annotations.push({xref:'paper',yref:'paper',x:X(labelLeft[i]),y:Y(labelTop[i]),xanchor:'left',yanchor:'top',align:'left',width:labelBoxWidth[i],text:t,showarrow:false,font:{family:SERIF,size:22,color:labelColor[i]==='b'?'#1414F0':'#FF0A0A'},bgcolor:'rgba(255,255,255,.78)',bordercolor:'#8a8a8a',borderwidth:1.2,borderpad:5});
});
paperLine(1239,979,1183,1133,{line:{color:'#D42A2A',width:1}});
paperLine(1186,1135,1248,1123,{line:{color:'#E23030',width:1,dash:'dash'}});
paperLine(1187,1142,1250,1138,{line:{color:'#E23030',width:1,dash:'dash'}});
txt(1287.5,935.5,`<span style="font-family:${SERIF}"><b>LUAD</b></span><br><b>(n=451, p&lt;0.05)</b>`,{width:239,height:85,bgcolor:'#FFD0D0',font:{family:SANS,size:26.5,color:'#F00000'}});
txt(1118,1232,'Correlation coefficient (pearson)',{font:{family:SANS,size:27.4,color:'#222'}});
txt(693,840,'-Log10 (pValue)',{textangle:-90,font:{family:SANS,size:27,color:'#222'}});

// panel d legend and label
txt(299,1360,'p&lt;0.05',{bgcolor:'#fff',borderpad:0,width:104,font:{family:SERIF,size:28,color:'#111'}});
txt(44.7,1551.7,'Expression of SCARB1',{textangle:-90,font:{family:SANS,size:28.8,color:'#222'}});
stageNames.forEach((s,i)=>{
  const cy=1370+i*26;
  shapes.push({type:'circle',xref:'paper',yref:'paper',x0:X(495.5),x1:X(510.5),y0:Y(cy-7.5),y1:Y(cy+7.5),fillcolor:stageColors[i],line:{width:0}});
  txt(513,cy,s,{xanchor:'left',font:{family:SANS,size:22,color:'#222'}});
});

// panel e legend and text
txt(1267,1358.6,'ENSG00000073060(SCARB1)',{font:{family:SERIF,size:24,color:'#222'}});
paperRect(1116.6,1378.6,1136.5,1398,{fillcolor:'#E64B35'});
paperRect(1116.6,1409.6,1136.5,1429,{fillcolor:'#4DBBD5'});
txt(1153,1389,'L',{font:{family:SERIF,size:22,color:'#E64B35'}});
txt(1154,1420,'H',{font:{family:SERIF,size:22,color:'#4DBBD5'}});
txt(773,1692,'p&lt;0.01',{font:{family:SERIF,size:28,color:'#111'}});
txt(853,1742,'HR=1.52,95CI%(1.12,2.08)',{font:{family:SERIF,size:23.8,color:'#222'}});

const seq=(a,b)=>{const r=[];for(let v=a;v<=b;v++)r.push(v);return r;};
const layout={
  width:W,height:H,autosize:false,margin:{l:0,r:0,t:0,b:0,pad:0},paper_bgcolor:'#fff',plot_bgcolor:'#fff',
  boxmode:'overlay',violinmode:'overlay',hovermode:false,showlegend:false,
  font:{family:SANS},
  // panel a
  xaxis:{domain:[X(76),X(1492)],anchor:'y',range:[-.59,20.6],type:'linear',tickmode:'array',tickvals:seq(0,20),ticktext:tissueTicks,tickangle:0,showgrid:false,zeroline:false,ticks:'outside',ticklen:3,ticklabelstandoff:-5,tickcolor:'#555',tickfont:{family:SANS,size:11.5},showline:true,mirror:true,linecolor:'#D8D8D8',linewidth:1.5,
    minor:{tickmode:'array',tickvals:seq(0,20).map(v=>v+.5),showgrid:true,gridcolor:'#CFCFCF',gridwidth:1.2,ticks:''}},
  yaxis:{domain:[Y(474),Y(24)],anchor:'x',range:[-825,17730],tickmode:'array',tickvals:[0,5000,10000,15000],zeroline:false,gridcolor:'#E4E4E4',gridwidth:2,ticks:'',tickfont:{family:SANS,size:11.5,color:'#4d4d4d'},tickformat:'d',showline:true,mirror:true,linecolor:'#D8D8D8',linewidth:1.5,
    minor:{tickmode:'array',tickvals:[2500,7500,12500,17500],showgrid:true,gridcolor:'#EFEFEF',gridwidth:1.5,ticks:''},
    title:{text:'<b>SCARB1 gene expression</b>',standoff:10,font:{family:SANS,size:12.5,color:'#111'}}},
  // panel b
  xaxis2:{domain:[X(159),X(626)],anchor:'y2',range:[-.603,1.605],type:'linear',tickmode:'array',tickvals:[0,1],ticktext:['Normal<br>n=476','Lung cancer<br>n=501'],showgrid:false,zeroline:false,ticks:'outside',ticklen:3,tickcolor:'#888',tickfont:{family:SANS,size:26.5,color:'#222'},showline:true,mirror:true,linecolor:'#DDD',linewidth:1.5},
  yaxis2:{domain:[Y(1031),Y(625)],anchor:'x2',range:[-54,3057],tickmode:'array',tickvals:[0,1000,2000,3000],showgrid:false,zeroline:false,ticks:'outside',ticklen:3,tickcolor:'#888',tickfont:{family:SANS,size:24,color:'#222'},tickformat:'d',showline:true,mirror:true,linecolor:'#DDD',linewidth:1.5},
  // panel c
  xaxis3:{domain:[X(755),X(1413)],anchor:'y3',range:[-.834,.528],tickmode:'linear',tick0:-.8,dtick:.1,tickformat:'.1f',zeroline:false,gridcolor:'#DEDEDE',gridwidth:1.5,ticks:'outside',ticklen:7,tickcolor:'#111',tickwidth:1.5,tickfont:{family:SANS,size:19,color:'#222'},showline:true,mirror:true,linecolor:'#111',linewidth:2},
  yaxis3:{domain:[Y(1172.3),Y(572)],anchor:'x3',range:[-.53,16.48],tickmode:'linear',tick0:0,dtick:2,zeroline:false,gridcolor:'#DEDEDE',gridwidth:1.5,ticks:'outside',ticklen:7,tickcolor:'#111',tickwidth:1.5,tickfont:{family:SANS,size:19,color:'#222'},showline:true,mirror:true,linecolor:'#111',linewidth:2},
  // panel d
  xaxis4:{domain:[X(91),X(482)],anchor:'y4',range:[-.632,3.636],type:'linear',tickmode:'array',tickvals:[1.5],ticktext:['LUAD<br>(Stage I=274,II=122,III=83,IV=26)'],gridcolor:'#ECECEC',gridwidth:1.5,zeroline:false,ticks:'outside',ticklen:7,tickcolor:'#333',tickwidth:1.5,tickfont:{family:SANS,size:27.3,color:'#222'},showline:true,mirror:true,linecolor:'#333',linewidth:1.6},
  yaxis4:{domain:[Y(1752),Y(1339)],anchor:'x4',range:[-.388,10.28],tickmode:'linear',tick0:0,dtick:2,zeroline:false,gridcolor:'#EDEDED',gridwidth:2,ticks:'outside',ticklen:6,tickcolor:'#333',tickwidth:1,tickfont:{family:SERIF,size:15,color:'#333'},showline:true,mirror:true,linecolor:'#333',linewidth:1.6},
  // panel e
  xaxis5:{domain:[X(708),X(1472)],anchor:'y5',range:[-190,7435],tickmode:'array',tickvals:survTicks,tickformat:',d',showgrid:false,zeroline:false,ticks:'outside',ticklen:7,tickcolor:'#111',tickwidth:1.5,tickfont:{family:DJ,size:20,color:'#222'},showline:true,mirror:true,linecolor:'#111',linewidth:2,
    title:{text:'Overall survival',standoff:3,font:{family:DJ,size:24,color:'#222'}}},
  yaxis5:{domain:[Y(1764),Y(1332)],anchor:'x5',range:[-.092,1.093],tickmode:'array',tickvals:survYTicks,ticktext:survYText,showgrid:false,zeroline:false,ticks:'outside',ticklen:5,tickcolor:'#111',tickwidth:1.5,tickfont:{family:DJ,size:19,color:'#222'},showline:true,mirror:true,linecolor:'#111',linewidth:2,
    title:{text:'Survival probability',standoff:7,font:{family:SERIF,size:24,color:'#222'}}},
  shapes,annotations
};
Plotly.newPlot('fig',traces,layout,{displayModeBar:false,responsive:false,staticPlot:true});
</script></body></html>
